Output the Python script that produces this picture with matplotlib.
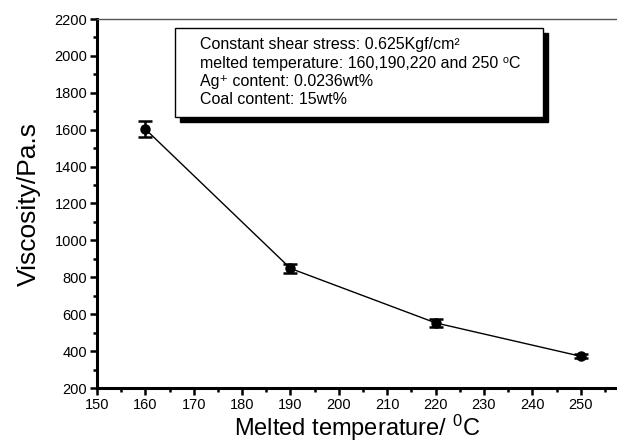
import matplotlib
matplotlib.use("Agg")
import matplotlib.pyplot as plt
from matplotlib.patches import Rectangle
from matplotlib.ticker import MultipleLocator

plt.rcParams['font.family'] = ['Liberation Sans', 'DejaVu Sans']
plt.rcParams['mathtext.fontset'] = 'custom'
plt.rcParams['mathtext.rm'] = 'Liberation Sans'
plt.rcParams['mathtext.it'] = 'Liberation Sans:italic'

temperature = [160, 190, 220, 250]
viscosity = [1603, 848, 553, 372]
error = [45, 25, 20, 10]

info_lines = [
    "Constant shear stress: 0.625Kgf/cm\u00b2",
    "melted temperature: 160,190,220 and 250 \u2070C",
    "Ag\u207a content: 0.0236wt%",
    "Coal content: 15wt%",
]

fig = plt.figure(figsize=(6.17, 4.44), dpi=100)
ax = fig.add_axes([97/617, 56/444, 520/617, 369/444])

ax.errorbar(temperature, viscosity, yerr=error, color='black', lw=1.0,
            marker='o', ms=6.5, capsize=5, capthick=1.8, elinewidth=1.8)

ax.set_xlim(150, 257.5)
ax.set_ylim(200, 2200)
ax.xaxis.set_major_locator(MultipleLocator(10))
ax.xaxis.set_minor_locator(MultipleLocator(5))
ax.yaxis.set_major_locator(MultipleLocator(200))
ax.yaxis.set_minor_locator(MultipleLocator(100))
ax.tick_params(axis='both', which='major', direction='out', length=5, width=1.8, labelsize=10.5, pad=2)
ax.tick_params(axis='both', which='minor', direction='out', length=3, width=1.8)

ax.spines['right'].set_visible(False)
ax.spines['left'].set_linewidth(2.2)
ax.spines['bottom'].set_linewidth(2.2)
ax.spines['top'].set_linewidth(1.0)
ax.spines['top'].set_color('#555555')

ax.set_xlabel("Melted temperature/ $^{0}$C", fontsize=17, labelpad=1)
ax.set_ylabel("Viscosity/Pa.s", fontsize=19, labelpad=10)

# info box with shadow
bx0, by0, bx1, by1 = 0.15, 0.734, 0.858, 0.976
dx, dy = 0.0096, 0.0136
ax.add_patch(Rectangle((bx0 + dx, by0 - dy), bx1 - bx0, by1 - by0, transform=ax.transAxes,
                       facecolor='black', edgecolor='black', zorder=4, clip_on=False))
ax.add_patch(Rectangle((bx0, by0), bx1 - bx0, by1 - by0, transform=ax.transAxes,
                       facecolor='white', edgecolor='black', lw=1.0, zorder=5, clip_on=False))
ys = [44, 63, 81, 99]
for line, ypix in zip(info_lines, ys):
    ax.text((200 - 97) / 520, (388 - ypix) / 369, line, transform=ax.transAxes,
            fontsize=11.5, va='center', ha='left', zorder=6)

fig.savefig("out.png", dpi=100)
